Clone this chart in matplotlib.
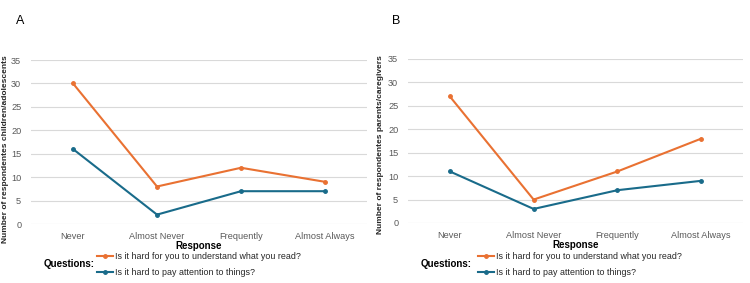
import matplotlib
matplotlib.use("Agg")
import matplotlib.pyplot as plt
from matplotlib.lines import Line2D

plt.rcParams["font.family"] = ["Liberation Sans", "DejaVu Sans"]

# ============================================================
# Data
# ============================================================

CATEGORIES = ["Never", "Almost Never", "Frequently", "Almost Always"]

READ_A = [30, 8, 12, 9]
ATTENTION_A = [16, 2, 7, 7]

READ_B = [27, 5, 11, 18]
ATTENTION_B = [11, 3, 7, 9]

Y_TICKS = [0, 5, 10, 15, 20, 25, 30, 35]

LABEL_READ = "Is it hard for you to understand what you read?"
LABEL_ATTN = "Is it hard to pay attention to things?"

ORANGE = "#E97132"
BLUE = "#196B8A"
GRID = "#D9D9D9"
TICK = "#595959"

W, H = 750, 283


def px_axes(fig, x0, x1, ytop, ybot):
    return fig.add_axes([x0 / W, 1 - ybot / H, (x1 - x0) / W, (ybot - ytop) / H])


def draw_panel(fig, ax, read, attn, ylabel, ylab_x, ylab_y,
               letter, letter_x, qx, lx):
    x = range(len(CATEGORIES))
    ax.plot(x, read, color=ORANGE, lw=1.5, marker="o", ms=2.5)
    ax.plot(x, attn, color=BLUE, lw=1.5, marker="o", ms=2.5)

    ax.set_xlim(-0.5, len(CATEGORIES) - 0.5)
    ax.set_ylim(0, 35)
    ax.set_yticks(Y_TICKS)
    ax.set_xticks(list(x))
    ax.set_xticklabels(CATEGORIES)
    ax.tick_params(length=0, labelsize=6.6, colors=TICK, pad=6)
    ax.tick_params(axis="y", pad=7)
    ax.grid(axis="y", color=GRID, lw=0.8)
    ax.set_axisbelow(True)
    for s in ax.spines.values():
        s.set_visible(False)

    # y label placed by hand, like the original
    fig.text(ylab_x / W, 1 - ylab_y / H, ylabel, rotation=90, fontsize=6.0,
             fontweight="bold", ha="center", va="center", color="#262626")
    ax.set_xlabel("Response", fontsize=7, fontweight="bold", labelpad=0)

    fig.text(letter_x / W, 1 - 21 / H, letter, fontsize=9, va="center")
    fig.text(qx / W, 1 - 264 / H, "Questions:", fontsize=7,
             fontweight="bold", va="center")

    handles = [
        Line2D([], [], color=ORANGE, lw=1.5, marker="o", ms=2.5),
        Line2D([], [], color=BLUE, lw=1.5, marker="o", ms=2.5),
    ]
    fig.legend(handles, [LABEL_READ, LABEL_ATTN],
               loc="upper left",
               bbox_to_anchor=(lx / W, 1 - 252 / H),
               frameon=False, fontsize=6.4, handlelength=1.8,
               handletextpad=0.2, labelspacing=0.75,
               borderpad=0, borderaxespad=0, labelcolor="#262626")


fig = plt.figure(figsize=(W / 100, H / 100), dpi=100)

ax_a = px_axes(fig, 31, 367, 60, 224)
draw_panel(fig, ax_a, READ_A, ATTENTION_A,
           "Number of respondentes children/adolescents", 6, 149,
           "A", 16, 44, 97)

ax_b = px_axes(fig, 408, 743, 59, 223)
draw_panel(fig, ax_b, READ_B, ATTENTION_B,
           "Number of respondentes parents/caregivers", 381, 145,
           "B", 392, 421, 478)

fig.savefig("out.png", dpi=100)
